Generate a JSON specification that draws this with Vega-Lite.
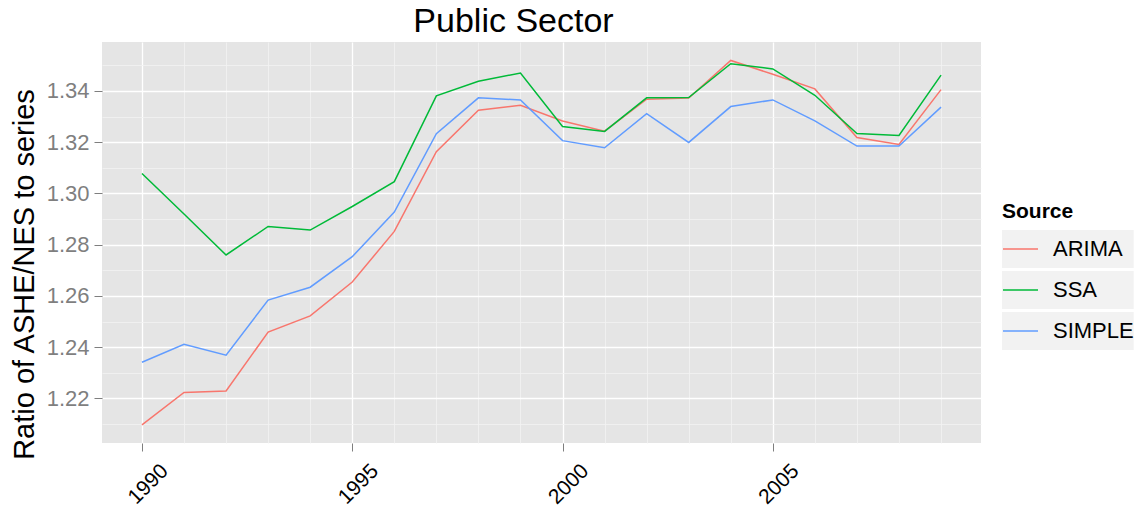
{
  "$schema": "https://vega.github.io/schema/vega-lite/v6.json",
  "width": 879,
  "height": 401,
  "autosize": {"type": "none"},
  "padding": {"left": 102, "top": 42, "right": 166, "bottom": 74},
  "background": "white",
  "config": {
    "font": "Liberation Sans",
    "view": {"fill": "#E5E5E5", "stroke": null}
  },
  "title": {
    "text": "Public Sector",
    "fontSize": 34,
    "fontWeight": "normal",
    "color": "black",
    "anchor": "middle",
    "baseline": "bottom",
    "offset": -31,
    "dx": -28
  },
  "data": {
    "values": [
      {"year": 1990, "source": "ARIMA", "value": 1.2097},
      {"year": 1991, "source": "ARIMA", "value": 1.2223},
      {"year": 1992, "source": "ARIMA", "value": 1.2229},
      {"year": 1993, "source": "ARIMA", "value": 1.2459},
      {"year": 1994, "source": "ARIMA", "value": 1.2522},
      {"year": 1995, "source": "ARIMA", "value": 1.2654},
      {"year": 1996, "source": "ARIMA", "value": 1.2852},
      {"year": 1997, "source": "ARIMA", "value": 1.3163},
      {"year": 1998, "source": "ARIMA", "value": 1.3325},
      {"year": 1999, "source": "ARIMA", "value": 1.3344},
      {"year": 2000, "source": "ARIMA", "value": 1.3283},
      {"year": 2001, "source": "ARIMA", "value": 1.3243},
      {"year": 2002, "source": "ARIMA", "value": 1.3368},
      {"year": 2003, "source": "ARIMA", "value": 1.3372},
      {"year": 2004, "source": "ARIMA", "value": 1.3519},
      {"year": 2005, "source": "ARIMA", "value": 1.3465},
      {"year": 2006, "source": "ARIMA", "value": 1.3408},
      {"year": 2007, "source": "ARIMA", "value": 1.3218},
      {"year": 2008, "source": "ARIMA", "value": 1.3191},
      {"year": 2009, "source": "ARIMA", "value": 1.3405},
      {"year": 1990, "source": "SSA", "value": 1.3078},
      {"year": 1991, "source": "SSA", "value": 1.2920},
      {"year": 1992, "source": "SSA", "value": 1.2760},
      {"year": 1993, "source": "SSA", "value": 1.2871},
      {"year": 1994, "source": "SSA", "value": 1.2857},
      {"year": 1995, "source": "SSA", "value": 1.2949},
      {"year": 1996, "source": "SSA", "value": 1.3046},
      {"year": 1997, "source": "SSA", "value": 1.3381},
      {"year": 1998, "source": "SSA", "value": 1.3438},
      {"year": 1999, "source": "SSA", "value": 1.3470},
      {"year": 2000, "source": "SSA", "value": 1.3261},
      {"year": 2001, "source": "SSA", "value": 1.3242},
      {"year": 2002, "source": "SSA", "value": 1.3373},
      {"year": 2003, "source": "SSA", "value": 1.3374},
      {"year": 2004, "source": "SSA", "value": 1.3506},
      {"year": 2005, "source": "SSA", "value": 1.3486},
      {"year": 2006, "source": "SSA", "value": 1.3383},
      {"year": 2007, "source": "SSA", "value": 1.3234},
      {"year": 2008, "source": "SSA", "value": 1.3226},
      {"year": 2009, "source": "SSA", "value": 1.3462},
      {"year": 1990, "source": "SIMPLE", "value": 1.2341},
      {"year": 1991, "source": "SIMPLE", "value": 1.2411},
      {"year": 1992, "source": "SIMPLE", "value": 1.2369},
      {"year": 1993, "source": "SIMPLE", "value": 1.2584},
      {"year": 1994, "source": "SIMPLE", "value": 1.2634},
      {"year": 1995, "source": "SIMPLE", "value": 1.2753},
      {"year": 1996, "source": "SIMPLE", "value": 1.2927},
      {"year": 1997, "source": "SIMPLE", "value": 1.3233},
      {"year": 1998, "source": "SIMPLE", "value": 1.3373},
      {"year": 1999, "source": "SIMPLE", "value": 1.3365},
      {"year": 2000, "source": "SIMPLE", "value": 1.3206},
      {"year": 2001, "source": "SIMPLE", "value": 1.3178},
      {"year": 2002, "source": "SIMPLE", "value": 1.3311},
      {"year": 2003, "source": "SIMPLE", "value": 1.3199},
      {"year": 2004, "source": "SIMPLE", "value": 1.3339},
      {"year": 2005, "source": "SIMPLE", "value": 1.3365},
      {"year": 2006, "source": "SIMPLE", "value": 1.3283},
      {"year": 2007, "source": "SIMPLE", "value": 1.3185},
      {"year": 2008, "source": "SIMPLE", "value": 1.3185},
      {"year": 2009, "source": "SIMPLE", "value": 1.3337}
    ]
  },
  "mark": {"type": "line", "strokeWidth": 1.5},
  "encoding": {
    "x": {
      "field": "year",
      "type": "quantitative",
      "scale": {"domain": [1989.05, 2009.95], "nice": false, "zero": false},
      "axis": {
        "title": null,
        "values": [1990, 1991, 1992, 1993, 1994, 1995, 1996, 1997, 1998, 1999, 2000, 2001, 2002, 2003, 2004, 2005, 2006, 2007, 2008, 2009],
        "format": "d",
        "labelExpr": "datum.value % 5 == 0 ? datum.label : ''",
        "labelAngle": -45,
        "labelAlign": "center",
        "labelBaseline": "middle",
        "labelPadding": 33,
        "labelOffset": 6,
        "labelFontSize": 21,
        "labelColor": "black",
        "labelOverlap": false,
        "labelBound": false,
        "labelFlush": false,
        "domain": false,
        "tickSize": 8,
        "tickWidth": 1,
        "tickColor": "#7F7F7F",
        "tickOpacity": {"condition": {"test": "datum.value % 5 == 0", "value": 1}, "value": 0},
        "grid": true,
        "gridColor": {"condition": {"test": "datum.value % 5 == 0", "value": "#FFFFFF"}, "value": "#F2F2F2"},
        "gridWidth": {"condition": {"test": "datum.value % 5 == 0", "value": 1.3}, "value": 0.8},
        "gridOpacity": 1
      }
    },
    "y": {
      "field": "value",
      "type": "quantitative",
      "scale": {"domain": [1.2026, 1.3591], "nice": false, "zero": false},
      "axis": {
        "title": "Ratio of ASHE/NES to series",
        "titleFontSize": 29,
        "titleFontWeight": "normal",
        "titleColor": "black",
        "titleAngle": -90,
        "titleAlign": "center",
        "titleBaseline": "alphabetic",
        "titleX": -69,
        "titleY": 232,
        "values": [1.21, 1.22, 1.23, 1.24, 1.25, 1.26, 1.27, 1.28, 1.29, 1.30, 1.31, 1.32, 1.33, 1.34, 1.35],
        "labelExpr": "abs(datum.value * 50 - round(datum.value * 50)) < 0.01 ? format(datum.value, '.2f') : ''",
        "labelFontSize": 22,
        "labelColor": "#7F7F7F",
        "labelPadding": 5,
        "labelOverlap": false,
        "labelBound": false,
        "labelFlush": false,
        "domain": false,
        "tickSize": 8,
        "tickWidth": 1,
        "tickColor": "#7F7F7F",
        "tickOpacity": {"condition": {"test": "abs(datum.value * 50 - round(datum.value * 50)) < 0.01", "value": 1}, "value": 0},
        "grid": true,
        "gridColor": {"condition": {"test": "abs(datum.value * 50 - round(datum.value * 50)) < 0.01", "value": "#FFFFFF"}, "value": "#F2F2F2"},
        "gridWidth": {"condition": {"test": "abs(datum.value * 50 - round(datum.value * 50)) < 0.01", "value": 1.3}, "value": 0.8},
        "gridOpacity": 1
      }
    },
    "color": {
      "field": "source",
      "type": "nominal",
      "sort": ["ARIMA", "SSA", "SIMPLE"],
      "scale": {"domain": ["ARIMA", "SSA", "SIMPLE"], "range": ["#F8766D", "#00BA38", "#619CFF"]},
      "legend": {
        "title": "Source",
        "orient": "none",
        "legendX": 900,
        "legendY": 159,
        "padding": 0,
        "titleFontSize": 21,
        "titleFontWeight": "bold",
        "titleColor": "black",
        "titleBaseline": "top",
        "titlePadding": 8,
        "labelFontSize": 22,
        "labelColor": "black",
        "labelOffset": 14,
        "symbolType": "stroke",
        "symbolSize": 1225,
        "symbolStrokeWidth": 1.5,
        "clipHeight": 38,
        "rowPadding": 3,
        "encode": {
          "entries": {
            "update": {
              "fill": {"value": "#F2F2F2"},
              "width": {"value": 39},
              "height": {"value": 38}
            }
          }
        }
      }
    }
  }
}
